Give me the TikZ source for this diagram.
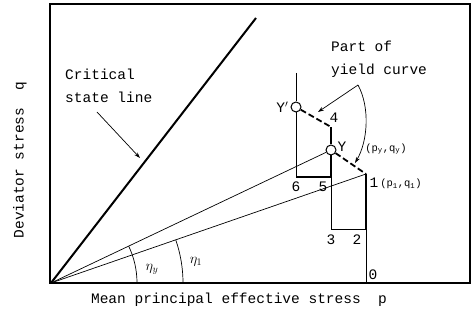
\documentclass[tikz,border=0pt]{standalone}
\usepackage{fontspec}
\setmonofont{Liberation Mono}
\usetikzlibrary{arrows.meta,positioning}
\newcommand\plotfont{\fontsize{14.5}{17}\selectfont\ttfamily}
\newcommand\noteplotfont{\fontsize{14.5}{23}\selectfont\ttfamily}
\newcommand\smallplotfont{\fontsize{10.5}{12}\selectfont\ttfamily}

\begin{document}
\begin{tikzpicture}[
  x=1pt,y=1pt,
  >={Stealth[length=6pt,width=4pt]},
  every node/.style={font=\plotfont,inner sep=1pt},
  yieldpt/.style={circle,draw,line width=1pt,fill=white,inner sep=0pt,minimum size=10pt},
  thinpath/.style={line width=0.7pt},
  thickpath/.style={line width=2pt},
  dashpath/.style={line width=1.8pt,dash pattern=on 6pt off 3pt},
  note/.style={anchor=west,align=left,font=\noteplotfont}
]
  \useasboundingbox (0,0) rectangle (471,321);
  % frame and axes
  \draw[line width=1.2pt] (50,38) rectangle (470,317);
  \draw[line width=2pt] (50,38) -- (470,38);
  \coordinate (O) at (51,38);
  % critical state line
  \coordinate (csltop) at (256,303);
  \draw[line width=2pt] (O) -- (csltop);
  % stress path points
  \coordinate (p0) at (366,38);
  \coordinate (p1) at (366,147);
  \coordinate (p2) at (366,92);
  \coordinate (p3) at (331,92);
  \coordinate (p5) at (331,144);
  \coordinate (p4) at (331,194);
  \coordinate (p6) at (296,144);
  \coordinate (ptop) at (296,248);
  \node[yieldpt] (Y) at (331,171) {};
  \node[yieldpt] (Yp) at (296,214) {};
  % loading lines from the origin
  \draw[thinpath] (O) -- (Y);
  \draw[thinpath] (O) -- (p1);
  % stress path
  \draw[thinpath] (p0) -- (p2);
  \draw[thickpath] (p2) -- (p1);
  \draw[thinpath] (p2) -- (p3) -- (p5);
  \draw[thickpath] (p5) -- (Y) -- (p4);
  \draw[thickpath] (p6) -- (p5);
  \draw[thinpath] (ptop) -- (Yp) -- (p6);
  % yield curve pieces
  \draw[dashpath] (Yp) -- (p4);
  \draw[dashpath] (Y) -- (p1);
  % stress ratio arcs
  \draw[thinpath] (O) ++(86,0) arc[start angle=0,end angle=25.4,radius=86];
  \draw[thinpath] (O) ++(132,0) arc[start angle=0,end angle=19.1,radius=132];
  \node (etay) at (152,52) {$\eta_y$};
  \node (eta1) at (196,59) {$\eta_1$};
  % labels of the critical state line
  \node[note] (csl) at (64,235) {Critical\\state line};
  \coordinate (cslfrom) at (97,209);
  \coordinate (cslto) at (140,163);
  \draw[thinpath,->] (cslfrom) -- (cslto);
  % labels of the yield curve
  \node[note] (yc) at (330,262) {Part of\\yield curve};
  \coordinate (ycfrom) at (358,236);
  \coordinate (ycto) at (318,209);
  \coordinate (ycto2) at (355,158);
  \draw[thinpath,->] (ycfrom) -- (ycto);
  \draw[thinpath,->] (ycfrom) .. controls (370,214) and (368,180) .. (ycto2);
  % point labels
  \node[left=1pt of Yp] (tYp) {Y$'$};
  \node (t4) at (334,203) {4};
  \node (tY) at (342,174) {Y};
  \node[font=\smallplotfont] (tpy) at (386,172) {(p\textsubscript{y},q\textsubscript{y})};
  \node (t1) at (374,138) {1};
  \node[font=\smallplotfont] (tp1) at (401,137) {(p\textsubscript{1},q\textsubscript{1})};
  \node (t6) at (296,134) {6};
  \node (t5) at (323,134) {5};
  \node (t3) at (331,81) {3};
  \node (t2) at (357,81) {2};
  \node (t0) at (373,46) {0};
  % axis titles
  \node[rotate=90] (qtitle) at (20,161) {Deviator stress\ \ q};
  \node (ptitle) at (239,21) {Mean principal effective stress\ \ p};
\end{tikzpicture}
\end{document}
